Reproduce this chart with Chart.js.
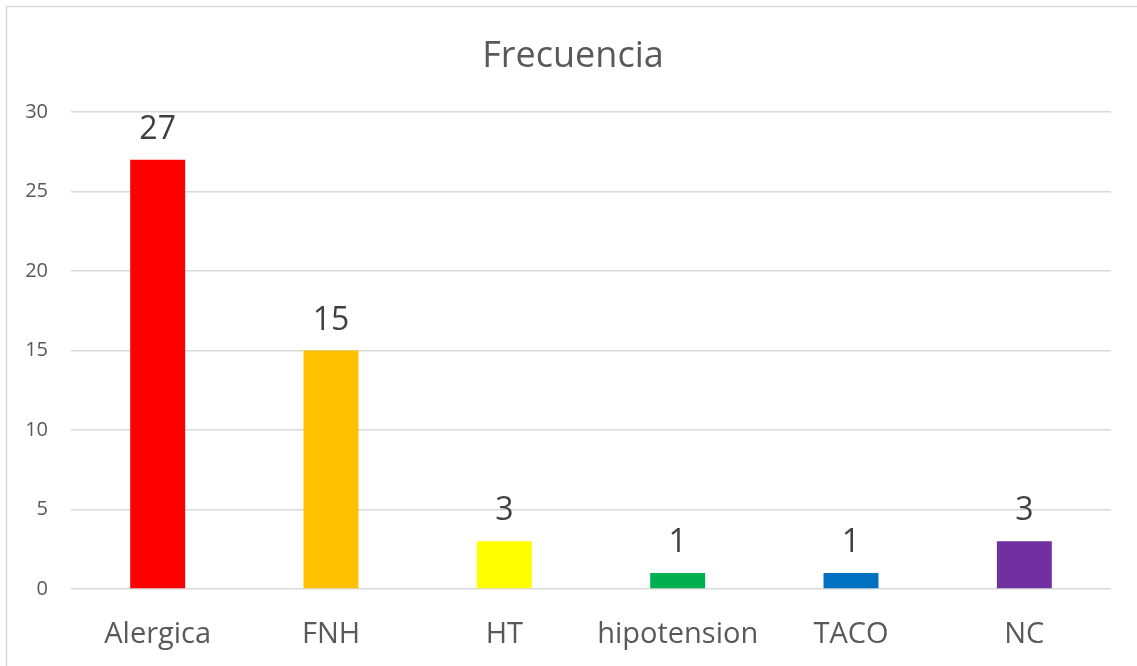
<!DOCTYPE html>
<html>
<head>
<meta charset="utf-8">
<script src="https://cdn.jsdelivr.net/npm/chart.js@4/dist/chart.umd.min.js"></script>
<style>
  html, body { margin: 0; padding: 0; background: #fff; }
  #wrap { position: relative; width: 1137px; height: 666px; }
</style>
</head>
<body>
<div id="wrap"><canvas id="c" width="1137" height="666"></canvas></div>
<script>
const categories = ['Alergica', 'FNH', 'HT', 'hipotension', 'TACO', 'NC'];
const values = [27, 15, 3, 1, 1, 3];
const barColors = ['#ff0000', '#ffc000', '#ffff00', '#00b050', '#0070c0', '#7030a0'];
const yTicks = [0, 5, 10, 15, 20, 25, 30];
const chartTitle = 'Frecuencia';

const FONT = '"Open Sans", "Liberation Sans", sans-serif';

// background, outer frame and title
const frame = {
  id: 'frame',
  beforeDraw(chart) {
    const ctx = chart.ctx;
    ctx.save();
    ctx.fillStyle = '#fff';
    ctx.fillRect(0, 0, chart.width, chart.height);
    ctx.strokeStyle = '#d9d9d9';
    ctx.lineWidth = 1.5;
    ctx.strokeRect(6.5, 6.5, chart.width + 10, chart.height + 10);
    ctx.fillStyle = '#595959';
    ctx.font = '36px ' + FONT;
    ctx.textAlign = 'center';
    ctx.textBaseline = 'alphabetic';
    ctx.fillText(chartTitle, 573, 67);
    ctx.restore();
  }
};

// value labels above bars
const valueLabels = {
  id: 'valueLabels',
  afterDatasetsDraw(chart) {
    const ctx = chart.ctx;
    const meta = chart.getDatasetMeta(0);
    ctx.save();
    ctx.fillStyle = '#404040';
    ctx.font = '32px ' + FONT;
    ctx.textAlign = 'center';
    ctx.textBaseline = 'alphabetic';
    meta.data.forEach((bar, i) => {
      ctx.fillText(String(values[i]), bar.x, bar.y - 21);
    });
    ctx.restore();
  }
};

new Chart(document.getElementById('c').getContext('2d'), {
  type: 'bar',
  data: {
    labels: categories,
    datasets: [{
      data: values,
      backgroundColor: barColors,
      borderWidth: 0,
      categoryPercentage: 1,
      barPercentage: 0.317,
    }],
  },
  options: {
    responsive: false,
    animation: false,
    layout: { padding: { top: 112, left: 0, right: 26, bottom: 0 } },
    plugins: { legend: { display: false }, tooltip: { enabled: false }, title: { display: false } },
    scales: {
      x: {
        grid: { display: false },
        border: { display: false },
        ticks: { color: '#595959', font: { family: FONT, size: 29 }, padding: 20, maxRotation: 0 },
        afterFit(scale) { scale.height = 77; },
      },
      y: {
        min: 0,
        max: 30,
        afterBuildTicks(scale) { scale.ticks = yTicks.map(v => ({ value: v })); },
        grid: { color: '#d9d9d9', lineWidth: 1.5, drawTicks: false },
        border: { display: false },
        ticks: { color: '#595959', font: { family: FONT, size: 20 }, padding: 23 },
        afterFit(scale) { scale.width = 71; },
      },
    },
  },
  plugins: [frame, valueLabels],
});
</script>
</body>
</html>
